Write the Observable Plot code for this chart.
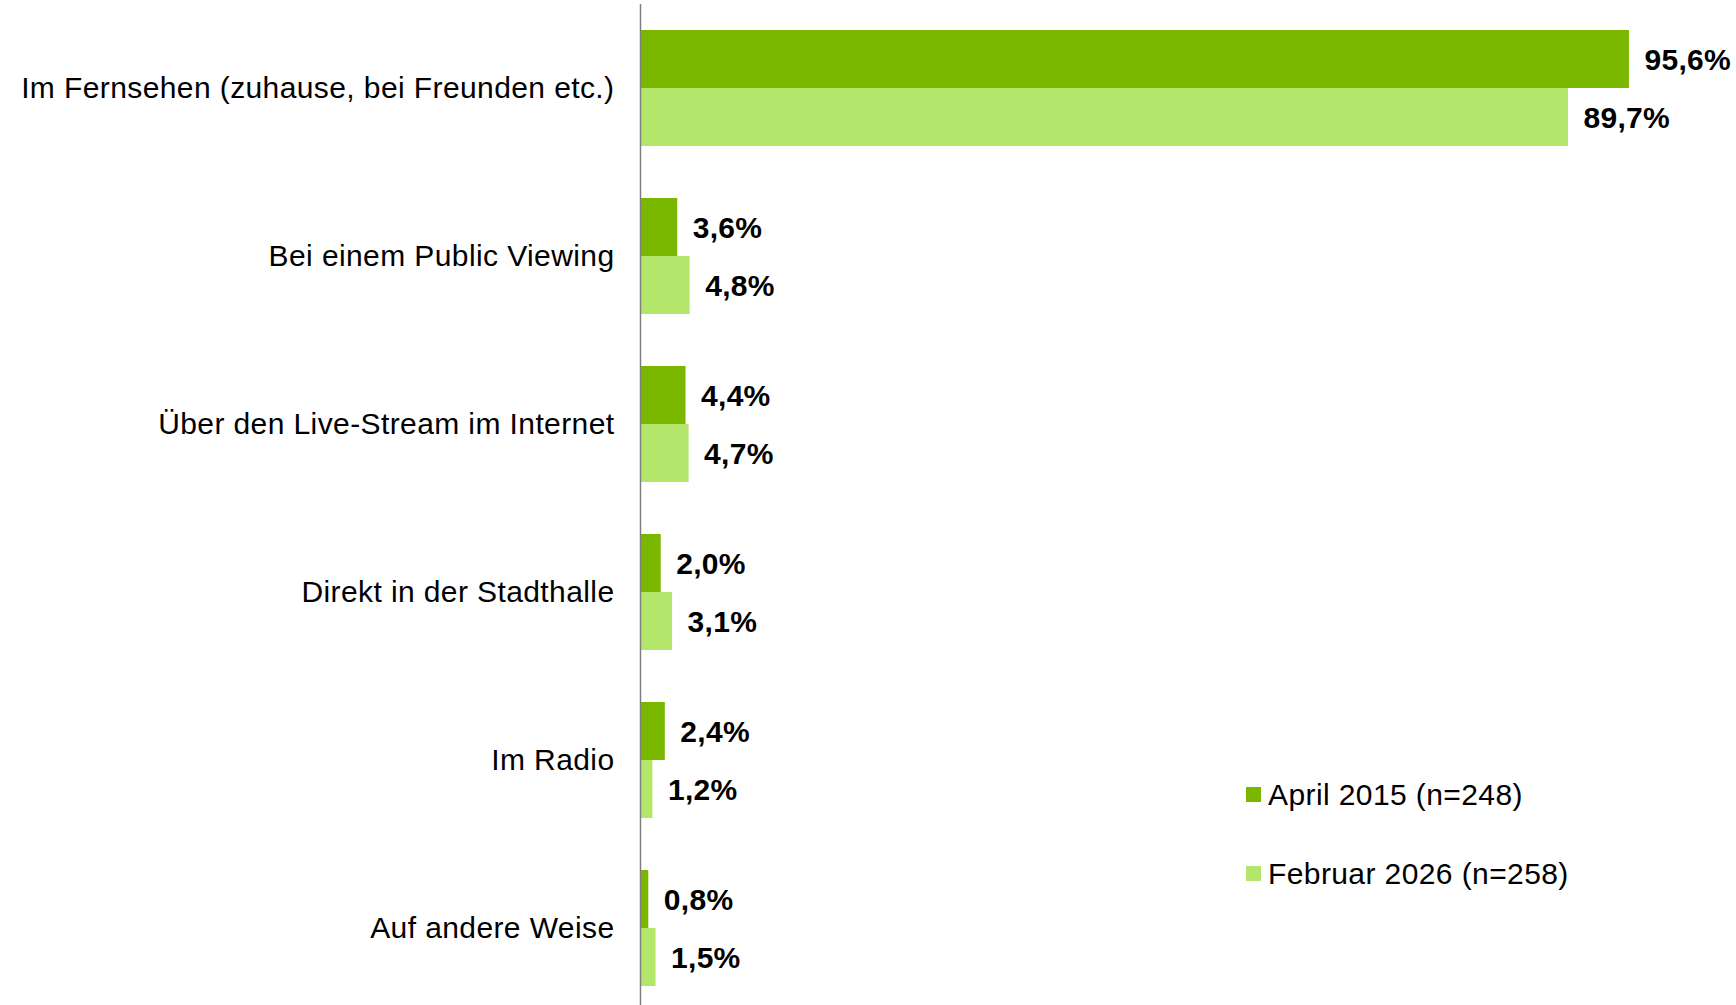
<!DOCTYPE html>
<html>
<head>
<meta charset="utf-8">
<script src="https://cdn.jsdelivr.net/npm/d3@7"></script>
<script src="https://cdn.jsdelivr.net/npm/@observablehq/plot@0.6"></script>
<style>
  html, body { margin: 0; padding: 0; background: #fff; }
  #wrap { position: relative; width: 1736px; height: 1005px; font-family: "Liberation Sans", Arial, sans-serif; }
  .legend { position: absolute; left: 1246px; font-size: 30px; letter-spacing: 0.4px; color: #000; display: flex; align-items: center; }
  .legend .sw { width: 15px; height: 15px; margin-right: 7px; }
  g[aria-label="y-axis tick label"] text { letter-spacing: 0.4px; }
  g[aria-label="text"] text { letter-spacing: 0.3px; }
</style>
</head>
<body>
<div id="wrap"></div>
<script>
const categories = [
  "Im Fernsehen (zuhause, bei Freunden etc.)",
  "Bei einem Public Viewing",
  "Über den Live-Stream im Internet",
  "Direkt in der Stadthalle",
  "Im Radio",
  "Auf andere Weise"
];
const seriesNames = ["April 2015 (n=248)", "Februar 2026 (n=258)"];
const april2015 = [95.6, 3.6, 4.4, 2.0, 2.4, 0.8];
const februar2026 = [89.7, 4.8, 4.7, 3.1, 1.2, 1.5];
const colors = ["#7ab800", "#b3e66a"];

const fmt = v => v.toFixed(1).replace(".", ",") + "%";
const rowsA = categories.map((c, i) => ({category: c, value: april2015[i], series: seriesNames[0]}));
const rowsB = categories.map((c, i) => ({category: c, value: februar2026[i], series: seriesNames[1]}));

const chart = Plot.plot({
  width: 1736,
  height: 1005,
  marginLeft: 640,
  marginRight: 61.5,
  marginTop: 30,
  marginBottom: 19,
  style: {fontFamily: '"Liberation Sans", Arial, sans-serif', color: "#000", background: "#fff"},
  x: {domain: [0, 100], axis: null},
  y: {domain: categories, paddingInner: 0.31, paddingOuter: 0, label: null},
  marks: [
    Plot.barX(rowsA, {x: "value", y: "category", fill: colors[0], insetBottom: 58}),
    Plot.barX(rowsB, {x: "value", y: "category", fill: colors[1], insetTop: 58}),
    Plot.text(rowsA, {x: "value", y: "category", text: d => fmt(d.value), textAnchor: "start", dx: 15, dy: -28, fontSize: 30, fontWeight: "bold", fill: "#000"}),
    Plot.text(rowsB, {x: "value", y: "category", text: d => fmt(d.value), textAnchor: "start", dx: 15, dy: 30, fontSize: 30, fontWeight: "bold", fill: "#000"}),
    Plot.ruleX([0], {stroke: "#7f7f7f", strokeWidth: 1.5, insetTop: -26, insetBottom: -19}),
    Plot.axisY({tickSize: 0, tickPadding: 26, fontSize: 30, fill: "#000"})
  ]
});

const wrap = document.getElementById("wrap");
wrap.appendChild(chart);
const legendTops = [777, 856];
seriesNames.forEach((name, i) => {
  const item = document.createElement("div");
  item.className = "legend";
  item.style.top = legendTops[i] + "px";
  item.style.height = "35px";
  const sw = document.createElement("div");
  sw.className = "sw";
  sw.style.background = colors[i];
  const t = document.createElement("span");
  t.textContent = name;
  item.appendChild(sw);
  item.appendChild(t);
  wrap.appendChild(item);
});
chart.style.position = "absolute";
chart.style.left = "0";
chart.style.top = "0";
</script>
</body>
</html>
